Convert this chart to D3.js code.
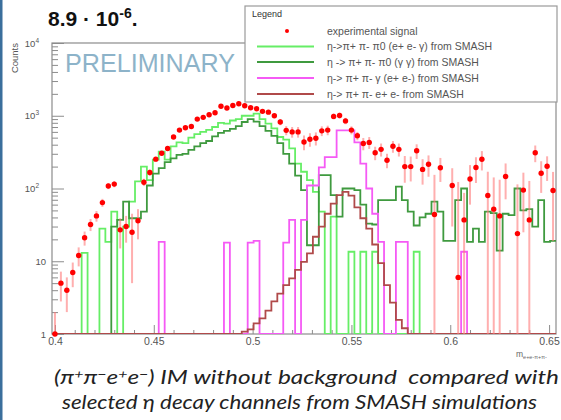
<!DOCTYPE html>
<html>
<head>
<meta charset="utf-8">
<script src="https://cdn.jsdelivr.net/npm/d3@7"></script>
<style>
  body { margin: 0; background: #fff; }
  svg { display: block; }
</style>
</head>
<body>
<div id="chart"></div>
<script>
// Binning of all histograms: 85 bins of 3 MeV
var binStart = 0.3985, binWidth = 0.003;

// experimental signal (points with errors), null = empty bin
var expSignal = [1, 5, 4, 7, 12, 21, 32, 42, 64, 108,
    115, 27, 30, 25, 36, 122, 166, 253, 305, 355,
    510, 635, 685, 710, 900, 950, 1030, 1100, 1350, 1280,
    1380, 1460, 1370, 1290, 1250, 1150, 1120, 1000, 820, 630,
    600, 600, 435, 475, 490, 620, 635, 980, 1010, 850,
    635, 530, 415, 430, 310, 345, 245, 380, 345, 200,
    200, 330, 183, 215, 44, 193, null, 110, 6, 37,
    135, 194, 252, 80, 52, 42, 146, null, 24, 95,
    37, 310, 162, 202, 94];
var expError = [1, 2.2, 2, 2.6, 3.5, 4.6, 6, 7, 8, 10,
    11, 12, 12, 20, 16, 14, 16, 18, 20, 22,
    24, 26, 28, 28, 30, 32, 34, 34, 36, 36,
    38, 38, 38, 38, 38, 40, 45, 60, 80, 90,
    100, 100, 100, 100, 100, 95, 95, 90, 90, 85,
    80, 70, 80, 80, 65, 70, 55, 70, 70, 80,
    75, 75, 70, 70, 110, 70, null, 80, 117, 50,
    75, 75, 75, 90, 90, 90, 75, null, 90, 70,
    90, 80, 75, 75, 75];

// eta -> pi+ pi- pi0 (e+ e- gamma), light green
var etaPi0Dalitz = [0, 0, 0, 0, 0, 13, 0, 0, 28, 18.5,
    48, 0, 30, 66, 125, 200, 130, 250, 320, 250,
    380, 430, 420, 500, 560, 600, 640, 700, 800, 780,
    860, 900, 1000, 1000, 1070, 900, 780, 670, 510, 470,
    355, 220, 170, 130, 90, 48, 0, 41, 0, 0,
    13.5, 0, 13.5, 0, 13.5, 0, 0, 0, 0, 0,
    0, 13.5, 0, 0, 0, 0, 0, 0, 0, 0,
    0, 0, 0, 0, 0, 0, 0, 0, 0, 0,
    0, 0, 0, 0, 0];
// eta -> pi+ pi- pi0 (gamma gamma), dark green
var etaPi0GG = [0, 0, 0, 0, 0, 0, 0, 0, 0, 0,
    30, 37, 66, 39, 39, 48, 110, 160, 190, 230,
    260, 290, 300, 340, 380, 420, 450, 520, 580, 620,
    660, 720, 820, 900, 830, 720, 620, 530, 420, 300,
    220, 150, 95, 16.6, 16.6, 153, 153, 81, 41, 100,
    100, 95, 60, 33, 32, 69, 69, 69, 106, 69,
    48, 31, 40, 45, 66, 48, 19, 19, 69, 100,
    18.5, 28, 18.5, 48, 46, 14, 45, 43, 100, 50,
    52, 30, 69, 18.5, 19];
// eta -> pi+ pi- gamma (e+ e-), magenta
var etaGammaEE = [0, 0, 0, 0, 0, 0, 0, 0, 0, 0,
    0, 0, 0, 0, 0, 0, 0, 0, 18.5, 0,
    0, 0, 0, 0, 0, 0, 0, 0, 0, 18,
    0, 0, 0, 18, 19, 0, 0, 0, 0, 18,
    37, 0, 37, 110, 110, 195, 270, 270, 630, 630,
    630, 430, 220, 100, 45, 18.5, 0, 0, 18.5, 18.5,
    0, 0, 0, 0, 0, 0, 0, 0, 0, 13.5,
    0, 0, 0, 0, 0, 0, 0, 0, 0, 0,
    0, 0, 0, 0, 0];
// eta -> pi+ pi- e+ e-, brown
var etaPiPiEE = [0, 0, 0, 0, 0, 0, 0, 0, 0, 0,
    0, 0, 0, 0, 0, 0, 0, 0, 0, 0,
    0, 0, 0, 0, 0, 0, 0, 0, 0, 0,
    0, 0, 1.08, 1.16, 1.4, 1.64, 2.1, 2.8, 3.6, 4.7,
    5.8, 7.6, 9.8, 12.8, 21.7, 30, 45, 62, 81, 90,
    80, 55, 39, 28, 17, 9.4, 4.7, 2.7, 1.56, 1.2,
    0, 0, 0, 0, 0, 0, 0, 0, 0, 0,
    0, 0, 0, 0, 0, 0, 0, 0, 0, 0,
    0, 0, 0, 0, 0];

var xTicks = [0.4, 0.45, 0.5, 0.55, 0.6, 0.65];
var yTicks = [1, 10, 100, 1000, 10000];
var yTickLabels = [["1", ""], ["10", ""], ["10", "2"], ["10", "3"], ["10", "4"]];

var legendLabels = ["experimental signal",
    "\u03b7->\u03c0+ \u03c0- \u03c00 (e+ e- \u03b3) from SMASH",
    "\u03b7 -> \u03c0+ \u03c0- \u03c00 (\u03b3 \u03b3) from SMASH",
    "\u03b7-> \u03c0+ \u03c0- \u03b3 (e+ e-) from SMASH",
    "\u03b7-> \u03c0+ \u03c0- e+ e- from SMASH"];
var seriesColors = ["#ff0000", "#66ee66", "#3f9a3f", "#f55af5", "#b04a4a"];

// Size settings
var width = 561, height = 420;
var plot = { left: 52, right: 556, top: 43, bottom: 334 };

var svg = d3.select("#chart").append("svg")
    .attr("width", width)
    .attr("height", height)
    .style("font-family", "'Liberation Sans', Arial, sans-serif");

svg.append("rect").attr("width", width).attr("height", height).attr("fill", "#fff");
// slide border on the left
svg.append("rect").attr("x", 0).attr("y", 0).attr("width", 2.5).attr("height", height).attr("fill", "#3b6f9c");

// X and Y Scales
var xScale = d3.scaleLinear()
    .domain([binStart, binStart + binWidth * expSignal.length])
    .range([plot.left, plot.right]);
var yScale = d3.scaleLog()
    .domain([1, 10000])
    .range([plot.bottom, plot.top]);

svg.append("clipPath").attr("id", "plotclip")
    .append("rect")
    .attr("x", plot.left).attr("y", plot.top)
    .attr("width", plot.right - plot.left).attr("height", plot.bottom - plot.top);

// Minor ticks
var xMinor = d3.range(0.40, 0.655, 0.01).filter(function(v) {
    return xTicks.every(function(t) { return Math.abs(t - v) > 1e-6; });
});
var yMinor = [];
[1, 10, 100, 1000].forEach(function(dec) {
    for (var m = 2; m <= 9; m++) yMinor.push(dec * m);
});

var axisColor = "#8c8c8c";

var gxMinor = svg.append("g")
    .attr("transform", "translate(0," + plot.bottom + ")")
    .call(d3.axisBottom(xScale).tickValues(xMinor).tickSize(-4).tickFormat(""));
var gx = svg.append("g")
    .attr("transform", "translate(0," + plot.bottom + ")")
    .call(d3.axisBottom(xScale).tickValues(xTicks).tickSize(-9).tickPadding(4)
        .tickFormat(d3.format("")));
var gyMinor = svg.append("g")
    .attr("transform", "translate(" + plot.left + ",0)")
    .call(d3.axisLeft(yScale).tickValues(yMinor).tickSize(-6).tickFormat(""));
var gy = svg.append("g")
    .attr("transform", "translate(" + plot.left + ",0)")
    .call(d3.axisLeft(yScale).tickValues(yTicks).tickSize(-12).tickFormat(""));

[gxMinor, gx, gyMinor, gy].forEach(function(g) {
    g.select(".domain").remove();
    g.selectAll(".tick line").attr("stroke", axisColor).attr("stroke-width", 1);
});
gx.selectAll(".tick text")
    .attr("font-size", 10.5)
    .attr("fill", "#555")
    .attr("font-family", "'Liberation Sans', Arial, sans-serif");

// y labels with superscripts
gy.selectAll(".tick").each(function(d, i) {
    var lab = yTickLabels[i];
    var t = d3.select(this).append("text")
        .attr("x", lab[1] ? -13 : -6)
        .attr("y", 3)
        .attr("text-anchor", "end")
        .attr("fill", "#555")
        .attr("font-size", 9.5)
        .attr("font-family", "'Liberation Sans', Arial, sans-serif");
    t.append("tspan").text(lab[0]);
    if (lab[1]) {
        t.append("tspan").attr("dy", -4).attr("font-size", 6.5).text(lab[1]);
    }
});

// frame
svg.append("rect")
    .attr("x", plot.left).attr("y", plot.top)
    .attr("width", plot.right - plot.left).attr("height", plot.bottom - plot.top)
    .attr("fill", "none").attr("stroke", axisColor).attr("stroke-width", 1.2);

// Histograms as step lines
function stepPoints(vals) {
    var pts = vals.map(function(v, k) { return [binStart + k * binWidth, Math.max(v, 1)]; });
    pts.push([binStart + vals.length * binWidth, Math.max(vals[vals.length - 1], 1)]);
    return pts;
}
var stepLine = d3.line()
    .x(function(d) { return xScale(d[0]); })
    .y(function(d) { return yScale(d[1]); })
    .curve(d3.curveStepAfter);

var plotArea = svg.append("g").attr("clip-path", "url(#plotclip)");

[etaPi0Dalitz, etaPi0GG, etaGammaEE, etaPiPiEE].forEach(function(vals, s) {
    plotArea.append("path")
        .datum(stepPoints(vals))
        .attr("d", stepLine)
        .attr("fill", "none")
        .attr("stroke", seriesColors[s + 1])
        .attr("stroke-width", 1.8);
});

// experimental points
var expPts = [];
expSignal.forEach(function(v, k) {
    if (v !== null) expPts.push({ m: binStart + (k + 0.5) * binWidth, v: v, e: expError[k] });
});

plotArea.selectAll(".err")
    .data(expPts)
    .enter().append("line")
    .attr("class", "err")
    .attr("x1", function(d) { return xScale(d.m); })
    .attr("x2", function(d) { return xScale(d.m); })
    .attr("y1", function(d) { return yScale(d.v + d.e); })
    .attr("y2", function(d) { return yScale(Math.max(d.v - d.e, 1)); })
    .attr("stroke", "#ff7a7a")
    .attr("stroke-opacity", 0.6)
    .attr("stroke-width", 2);

svg.selectAll(".dot")
    .data(expPts)
    .enter().append("circle")
    .attr("class", "dot")
    .attr("cx", function(d) { return xScale(d.m); })
    .attr("cy", function(d) { return yScale(d.v); })
    .attr("r", 2.7)
    .attr("fill", "#ff0000");

// axis titles
svg.append("text")
    .attr("transform", "translate(18,43) rotate(-90)")
    .attr("text-anchor", "end")
    .attr("font-size", 9.5)
    .attr("fill", "#555")
    .text("Counts");

var xt = svg.append("text")
    .attr("x", 516).attr("y", 357)
    .attr("font-size", 8.5)
    .attr("fill", "#666");
xt.append("tspan").text("m");
xt.append("tspan").attr("dy", 2).attr("font-size", 5.5).text("e+e-\u03c0+\u03c0-");

// PRELIMINARY watermark
svg.append("text")
    .attr("x", 65).attr("y", 72)
    .attr("font-size", 26)
    .attr("textLength", 170)
    .attr("lengthAdjust", "spacingAndGlyphs")
    .attr("fill", "#8db3c9")
    .text("PRELIMINARY");

// Branching ratio header
var br = svg.append("text")
    .attr("x", 48).attr("y", 26)
    .attr("font-size", 21)
    .attr("font-weight", "bold")
    .attr("fill", "#111");
br.append("tspan").text("8.9 \u00b7 10");
br.append("tspan").attr("dy", -8).attr("font-size", 14).text("-6");
br.append("tspan").attr("dy", 8).text(".");

// Legend
var legend = svg.append("g");
legend.append("rect")
    .attr("x", 245).attr("y", 6)
    .attr("width", 312).attr("height", 96)
    .attr("fill", "#fff")
    .attr("stroke", "#9a9a9a")
    .attr("stroke-width", 1.2);
legend.append("text")
    .attr("x", 252).attr("y", 17)
    .attr("font-size", 9)
    .attr("fill", "#333")
    .text("Legend");

var legendRows = [31, 46.5, 62, 78, 94];
legendLabels.forEach(function(lab, i) {
    if (i === 0) {
        legend.append("circle").attr("cx", 287).attr("cy", legendRows[i]).attr("r", 2)
            .attr("fill", seriesColors[0]);
    } else {
        legend.append("line")
            .attr("x1", 257).attr("x2", 314)
            .attr("y1", legendRows[i]).attr("y2", legendRows[i])
            .attr("stroke", seriesColors[i]).attr("stroke-width", 1.8);
    }
    legend.append("text")
        .attr("x", 327).attr("y", legendRows[i] + 3.5)
        .attr("font-size", 10.5)
        .attr("fill", "#555")
        .text(lab);
});

// caption
var cap1 = svg.append("text")
    .attr("x", 54).attr("y", 384)
    .attr("font-family", "Lato, 'Open Sans', sans-serif")
    .attr("font-style", "italic")
    .attr("font-size", 18.5)
    .attr("fill", "#222")
    .attr("textLength", 505)
    .attr("lengthAdjust", "spacingAndGlyphs");
cap1.append("tspan").text("(\u03c0");
cap1.append("tspan").attr("dy", -6).attr("font-size", 12).text("+");
cap1.append("tspan").attr("dy", 6).text("\u03c0");
cap1.append("tspan").attr("dy", -6).attr("font-size", 12).text("\u2212");
cap1.append("tspan").attr("dy", 6).text("e");
cap1.append("tspan").attr("dy", -6).attr("font-size", 12).text("+");
cap1.append("tspan").attr("dy", 6).text("e");
cap1.append("tspan").attr("dy", -6).attr("font-size", 12).text("\u2212");
cap1.append("tspan").attr("dy", 6).text(") IM without background\u00a0 compared with");

svg.append("text")
    .attr("x", 62).attr("y", 409)
    .attr("font-family", "Lato, 'Open Sans', sans-serif")
    .attr("font-style", "italic")
    .attr("font-size", 18.5)
    .attr("fill", "#222")
    .attr("textLength", 475)
    .attr("lengthAdjust", "spacingAndGlyphs")
    .text("selected \u03b7 decay channels from SMASH simulations");
</script>
</body>
</html>
